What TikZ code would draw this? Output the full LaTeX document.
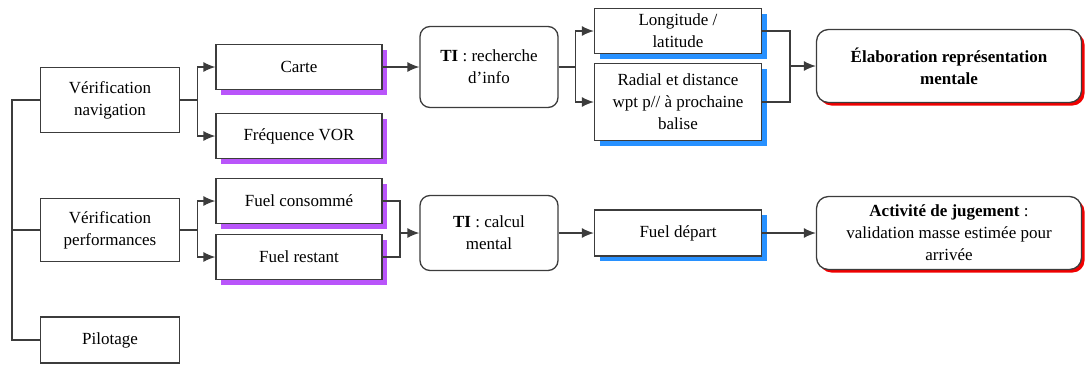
\documentclass[tikz,border=0pt]{standalone}
\usepackage{fontspec}
\setmainfont{Liberation Serif}
\usetikzlibrary{arrows.meta,shadows}
\definecolor{trait}{RGB}{60,60,60}
\definecolor{ombreviolet}{RGB}{185,85,250}
\definecolor{ombrebleu}{RGB}{40,145,255}
\definecolor{ombrerouge}{RGB}{240,0,0}
\begin{document}
\begin{tikzpicture}[x=1pt,y=-1pt,line width=1.3pt,color=trait,
    fleche/.style={-{Latex[length=12pt,width=10pt]}},
    boite/.style={draw=trait,fill=white,text=black,align=center,inner sep=2pt,
        font=\fontsize{17}{22}\selectfont},
    simple/.style={boite,minimum width=139pt},
    violette/.style={boite,minimum width=166pt,minimum height=45pt,
        general shadow={fill=ombreviolet,shadow xshift=5pt,shadow yshift=-5pt}},
    bleue/.style={boite,minimum width=167pt,
        general shadow={fill=ombrebleu,shadow xshift=5pt,shadow yshift=-5pt}},
    arrondi/.style={boite,rounded corners=10pt,minimum width=138pt},
    rouge/.style={boite,rounded corners=12pt,minimum width=265pt,minimum height=73pt,
        general shadow={fill=ombrerouge,shadow xshift=3pt,shadow yshift=-3pt}}]
    \useasboundingbox (0,0) rectangle (1085,365);
    \node[simple,minimum height=65pt] (verifnav) at (110,100) {Vérification\\navigation};
    \node[simple,minimum height=63pt] (verifperf) at (110,230) {Vérification\\performances};
    \node[simple,minimum height=46pt] (pilotage) at (110,340) {Pilotage};
    \node[violette] (carte) at (299,67) {Carte};
    \node[violette] (vor) at (299,136) {Fréquence VOR};
    \node[violette] (fuelcons) at (299,201) {Fuel consommé};
    \node[violette] (fuelrest) at (299,257) {Fuel restant};
    \node[arrondi,minimum height=81pt] (tirech) at (489,67) {\textbf{TI} : recherche\\d’info};
    \node[arrondi,minimum height=75pt] (ticalc) at (489,233) {\textbf{TI} : calcul\\mental};
    \node[bleue,minimum height=45pt] (longlat) at (678,31) {Longitude /\\latitude};
    \node[bleue,minimum height=77pt] (radial) at (678,102) {Radial et distance\\wpt p// à prochaine\\balise};
    \node[bleue,minimum height=46pt] (fueldep) at (678,233) {Fuel départ};
    \node[rouge] (elab) at (949,66) {\textbf{Élaboration représentation}\\\textbf{mentale}};
    \node[rouge] (jugement) at (949,233) {\textbf{Activité de jugement} :\\validation masse estimée pour\\arrivée};
    \draw (verifnav.west) -| ([xshift=-28pt]pilotage.west) -- (pilotage.west); % tronc
    \draw (verifperf.west) -- ++(-28,0);
    \draw (verifnav.east) -- ++(17,0) coordinate (jnav); % navigation
    \draw[fleche] (jnav) |- (carte.west);
    \draw[fleche] (jnav) |- (vor.west);
    \draw[fleche] (carte) -- (tirech);
    \draw (tirech.east) -- ++(17,0) coordinate (jrech);
    \draw[fleche] (jrech) |- (longlat.west);
    \draw[fleche] (jrech) |- (radial.west);
    \coordinate (jpos) at (790,66);
    \draw (longlat.east) -| (jpos) |- (radial.east);
    \draw[fleche] (jpos) -- (elab);
    \draw (verifperf.east) -- ++(17,0) coordinate (jperf); % performances
    \draw[fleche] (jperf) |- (fuelcons.west);
    \draw[fleche] (jperf) |- (fuelrest.west);
    \coordinate (jfuel) at (400,233);
    \draw (fuelcons.east) -| (jfuel) |- (fuelrest.east);
    \draw[fleche] (jfuel) -- (ticalc);
    \draw[fleche] (ticalc) -- (fueldep);
    \draw[fleche] (fueldep) -- (jugement);
\end{tikzpicture}
\end{document}
